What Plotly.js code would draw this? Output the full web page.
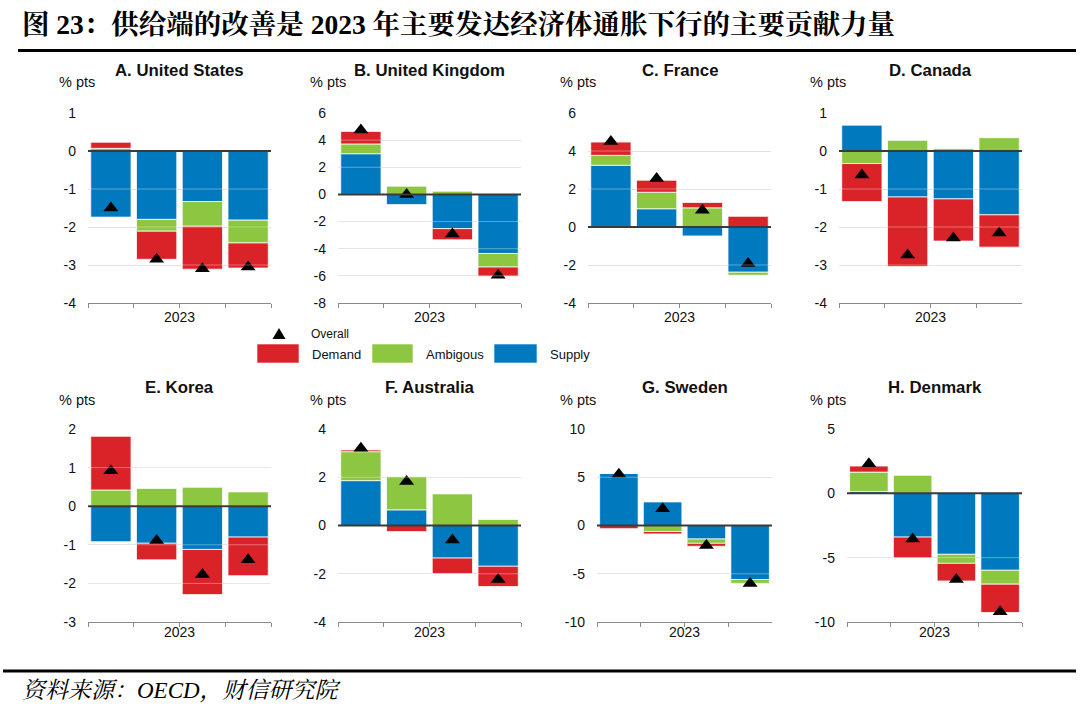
<!DOCTYPE html>
<html><head><meta charset="utf-8">
<script src="https://cdn.plot.ly/plotly-3.0.1.min.js"></script>
<style>html,body{margin:0;padding:0;background:#fff}#chart{width:1080px;height:708px}</style>
</head><body><div id="chart"></div>
<script>
// ---- data ----
const quarters = ['2023Q1', '2023Q2', '2023Q3', '2023Q4'];
const panelTitles = ['A. United States', 'B. United Kingdom', 'C. France', 'D. Canada',
                     'E. Korea', 'F. Australia', 'G. Sweden', 'H. Denmark'];
const seriesNames = ['Demand', 'Ambigous', 'Supply'];
const overallName = 'Overall';
const xLabel = '2023';
const unitLabel = '% pts';

// y tick labels per panel
const yTicks = [
  [-4, -3, -2, -1, 0, 1],
  [-8, -6, -4, -2, 0, 2, 4, 6],
  [-4, -2, 0, 2, 4, 6],
  [-4, -3, -2, -1, 0, 1],
  [-3, -2, -1, 0, 1, 2],
  [-4, -2, 0, 2, 4],
  [-10, -5, 0, 5, 10],
  [-10, -5, 0, 5]
];

// per country (order as panelTitles), per quarter
const supplyVals = [
  [-1.74, -1.80, -1.33, -1.82],
  [3.00, -0.75, -2.52, -4.35],
  [3.25, 0.96, -0.47, -2.38],
  [0.68, -1.21, -1.26, -1.68],
  [-0.92, -0.96, -1.12, -0.80],
  [1.86, 0.65, -1.35, -1.69],
  [5.40, 2.44, -1.40, -5.60],
  [0.15, -3.40, -4.74, -5.98]
];
const ambiguousVals = [
  [0.07, -0.31, -0.65, -0.60],
  [0.72, 0.63, 0.24, -1.00],
  [0.52, 0.87, 1.01, -0.16],
  [-0.33, 0.28, 0.06, 0.35],
  [0.42, 0.46, 0.49, 0.37],
  [1.20, 1.38, 1.31, 0.25],
  [0.00, -0.62, -0.45, -0.40],
  [1.50, 1.40, -0.70, -1.08]
];
const demandVals = [
  [0.16, -0.74, -1.13, -0.66],
  [0.92, 0.00, -0.82, -0.68],
  [0.70, 0.63, 0.28, 0.56],
  [-1.00, -1.83, -1.11, -0.85],
  [1.39, -0.43, -1.17, -1.00],
  [0.07, -0.25, -0.65, -0.84],
  [-0.33, -0.25, -0.30, -0.06],
  [0.47, -1.62, -1.37, -2.20]
];
const overallVals = [
  [-1.50, -2.85, -3.10, -3.05],
  [4.75, 0.00, -2.92, -5.95],
  [4.50, 2.55, 0.88, -1.92],
  [-0.63, -2.74, -2.29, -2.16],
  [0.92, -0.89, -1.77, -1.39],
  [3.20, 1.82, -0.60, -2.24],
  [5.30, 1.74, -2.07, -6.00],
  [2.30, -3.55, -6.70, -9.20]
];

// ---- styling / layout ----
const W = 1080, H = 708;
const px = v => v / W;
const py = v => 1 - v / H;
const colors = {Demand: '#DA2229', Ambigous: '#8DC641', Supply: '#0179BF'};
const sans = 'Arial, "Liberation Sans", sans-serif';
const serif = '"Liberation Serif", "Times New Roman", "Noto Serif CJK SC", "Noto Sans CJK SC", serif';

const xPix = [[88, 271], [338, 521], [588, 771], [839, 1022], [88, 271], [338, 521], [597, 772], [847, 1022]];
const rowPix = [[113, 303], [429, 622]];
const unitLeft = [57, 308, 558, 808, 57, 308, 558, 808];
const titleY = [70, 388];
const unitY = [82, 400];
const yearY = [317, 632];

const traces = [];
const layout = {
  width: W, height: H,
  margin: {l: 0, r: 0, t: 0, b: 0},
  paper_bgcolor: '#fff', plot_bgcolor: '#fff',
  barmode: 'relative', bargap: 0.12,
  showlegend: false,
  font: {family: sans, color: '#111'},
  annotations: [], shapes: []
};

const seriesData = {Supply: supplyVals, Ambigous: ambiguousVals, Demand: demandVals};
const stackOrder = ['Supply', 'Ambigous', 'Demand'];

for (let i = 0; i < 8; i++) {
  const k = i === 0 ? '' : String(i + 1);
  const xa = 'x' + k, ya = 'y' + k;
  const row = i < 4 ? 0 : 1;
  const tv = yTicks[i];
  stackOrder.forEach(name => {
    traces.push({
      type: 'bar', name: name, x: quarters, y: seriesData[name][i],
      xaxis: xa, yaxis: ya,
      marker: {color: colors[name], line: {color: 'rgba(255,255,255,0.75)', width: 1}},
      hoverinfo: 'name+y'
    });
  });
  traces.push({
    type: 'scatter', mode: 'markers', name: overallName, x: quarters, y: overallVals[i],
    xaxis: xa, yaxis: ya,
    marker: {symbol: 'triangle-up', size: 13, color: '#000'},
    cliponaxis: false
  });
  layout['xaxis' + k] = {
    domain: [px(xPix[i][0]), px(xPix[i][1])], anchor: ya,
    type: 'category', tickson: 'boundaries', ticks: 'outside', ticklen: 4,
    tickcolor: '#8a8a8a', showticklabels: false, showline: true, linecolor: '#8a8a8a',
    linewidth: 1, showgrid: false, zeroline: false, fixedrange: true
  };
  layout['yaxis' + k] = {
    domain: [py(rowPix[row][1]), py(rowPix[row][0])], anchor: xa,
    range: [tv[0], tv[tv.length - 1]], tickmode: 'array', tickvals: tv, ticktext: tv.map(String),
    showgrid: true, gridcolor: '#dcdcdc', gridwidth: 1, zeroline: false, showline: false,
    ticks: '', ticklabelstandoff: 11,
    tickfont: {family: sans, size: 14, color: '#111'}, fixedrange: true
  };
  // light grid lines visible across bars, zero line on top
  tv.forEach(v => {
    if (v !== 0 && v !== tv[0]) {
      layout.shapes.push({type: 'line', xref: xa + ' domain', x0: 0, x1: 1, yref: ya, y0: v, y1: v,
        line: {color: 'rgba(255,255,255,0.35)', width: 1}, layer: 'above'});
    }
  });
  layout.shapes.push({type: 'line', xref: xa + ' domain', x0: 0, x1: 1, yref: ya, y0: 0, y1: 0,
    line: {color: '#3a3a3a', width: 2}, layer: 'above'});
  // panel title
  layout.annotations.push({xref: xa + ' domain', x: 0.5, yref: 'paper', y: py(titleY[row]),
    text: '<b>' + panelTitles[i] + '</b>', showarrow: false, xanchor: 'center', yanchor: 'middle',
    font: {family: sans, size: 16.8, color: '#111'}});
  // unit label
  layout.annotations.push({xref: 'paper', x: px(unitLeft[i]), yref: 'paper', y: py(unitY[row]),
    text: unitLabel, showarrow: false, xanchor: 'left', yanchor: 'middle',
    font: {family: sans, size: 14.5, color: '#111'}});
  // year label
  layout.annotations.push({xref: xa + ' domain', x: 0.5, yref: 'paper', y: py(yearY[row]),
    text: xLabel, showarrow: false, xanchor: 'center', yanchor: 'middle',
    font: {family: sans, size: 14, color: '#111'}});
}

// main title and rules
layout.annotations.push({xref: 'paper', x: px(20), yref: 'paper', y: py(24),
  text: '<b>图 23：供给端的改善是 2023 年主要发达经济体通胀下行的主要贡献力量</b>',
  showarrow: false, xanchor: 'left', yanchor: 'middle',
  font: {family: serif, size: 27.5, color: '#000'}});
layout.shapes.push({type: 'line', xref: 'paper', yref: 'paper', x0: px(18), x1: px(1076), y0: py(50.5), y1: py(50.5),
  line: {color: '#000', width: 3}});
layout.shapes.push({type: 'line', xref: 'paper', yref: 'paper', x0: px(3), x1: px(1076), y0: py(671), y1: py(671),
  line: {color: '#000', width: 3}});
layout.annotations.push({xref: 'paper', x: px(20), yref: 'paper', y: py(690),
  text: '<i>资料来源：OECD，财信研究院</i>',
  showarrow: false, xanchor: 'left', yanchor: 'middle',
  font: {family: serif, size: 23, color: '#000'}});

// legend (manual)
layout.shapes.push({type: 'path', xref: 'paper', yref: 'paper',
  path: 'M ' + px(272.5) + ' ' + py(339) + ' L ' + px(285.5) + ' ' + py(339) + ' L ' + px(279) + ' ' + py(328) + ' Z',
  fillcolor: '#000', line: {width: 0}});
layout.annotations.push({xref: 'paper', x: px(309), yref: 'paper', y: py(334), text: overallName,
  showarrow: false, xanchor: 'left', yanchor: 'middle', font: {family: sans, size: 12, color: '#111'}});
const legSw = [[257, 299, 310], [372, 413, 424], [494, 537, 548]];
seriesNames.forEach((name, j) => {
  layout.shapes.push({type: 'rect', xref: 'paper', yref: 'paper',
    x0: px(legSw[j][0]), x1: px(legSw[j][1]), y0: py(363), y1: py(344),
    fillcolor: colors[name], line: {color: 'rgba(255,255,255,0.6)', width: 1}});
  layout.annotations.push({xref: 'paper', x: px(legSw[j][2]), yref: 'paper', y: py(354), text: name,
    showarrow: false, xanchor: 'left', yanchor: 'middle', font: {family: sans, size: 13, color: '#111'}});
});

Plotly.newPlot('chart', traces, layout, {displayModeBar: false, staticPlot: true});
</script>
</body></html>
